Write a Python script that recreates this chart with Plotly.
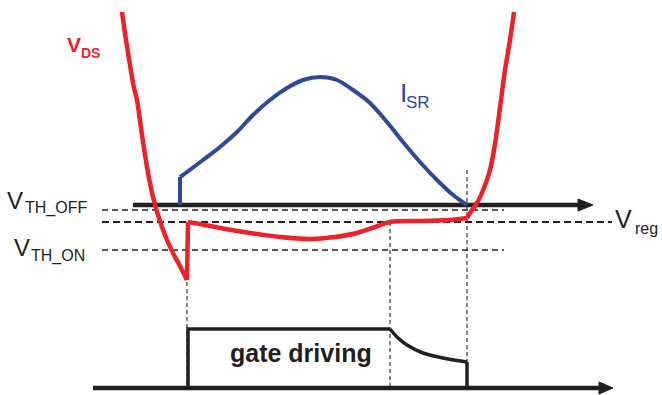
import plotly.graph_objects as go

# ---- data (pixel-space diagram coordinates) ----
# V_DS waveform, in four pieces
vds_fall_x = [122, 126, 130, 134, 137, 142, 147, 151, 155, 159, 162, 167, 173, 180, 187]
vds_fall_y = [12, 40, 65, 88, 100, 135, 167, 188, 205, 218, 227, 240, 253, 266, 280]
vds_jump_x = [187, 188]
vds_jump_y = [280, 222]
vds_cond_x = [188, 200, 220, 250, 280, 310, 335, 357, 375, 390, 420, 450, 467]
vds_cond_y = [222, 224, 228, 233, 237, 239, 237, 233, 227, 222, 221, 220, 218]
vds_rise_x = [467, 472, 477, 484, 490, 494, 497, 501, 505, 510, 514]
vds_rise_y = [218, 210, 203, 188, 170, 150, 130, 100, 70, 40, 12]

isr_step_x = [180, 180]
isr_step_y = [205, 177]
isr_x = [180, 183, 203, 220, 237, 253, 270, 287, 303, 320, 337, 353, 370, 387, 403, 420, 437, 453, 467]
isr_y = [177, 175, 160, 147, 132, 115, 100, 88, 80, 77, 80, 90, 103, 122, 142, 162, 180, 195, 205]

gate_on_x = [188, 188, 390]
gate_on_y = [388, 329, 329]
gate_decay_x = [390, 397, 407, 423, 443, 467]
gate_decay_y = [329, 337, 345, 353, 358, 362]
gate_off_x = [467, 467]
gate_off_y = [362, 388]

time_axis_x = [133, 582]
time_axis_y = 205
gate_axis_x = [93, 603]
gate_axis_y = 388

th_off_y = 210
vreg_y = 222
th_on_y = 250
thr_x = [102, 504]
vreg_x = [102, 612]

markers_x = [187, 390, 467]
markers_top = [282, 222, 170]

RED = "#ee2129"
BLUE = "#2e489c"
BLACK = "#231f20"
FONT = "Arial, Liberation Sans, Helvetica, sans-serif"

fig = go.Figure()

def line(x, y, color, width, dash=None, shape="linear"):
    fig.add_trace(go.Scatter(x=x, y=y, mode="lines", hoverinfo="skip",
                             line=dict(color=color, width=width, dash=dash, shape=shape,
                                       smoothing=0.8 if shape == "spline" else None),
                             showlegend=False))

# dashed threshold lines
line(thr_x, [th_off_y] * 2, "#222222", 1.3, "6px,4px")
line(vreg_x, [vreg_y] * 2, BLACK, 2, "7px,4px")
line(thr_x, [th_on_y] * 2, "#222222", 1.3, "6px,4px")

# vertical dotted markers
for mx, mt in zip(markers_x, markers_top):
    line([mx, mx], [mt, gate_axis_y], "#222222", 1.1, "4px,3px")

# time axes with arrowheads
line(time_axis_x, [time_axis_y] * 2, BLACK, 4.5)
fig.add_trace(go.Scatter(x=[578, 593, 578, 578], y=[199, 205, 211, 199], mode="lines",
                         fill="toself", fillcolor=BLACK, line=dict(color=BLACK, width=1),
                         hoverinfo="skip", showlegend=False))
line(gate_axis_x, [gate_axis_y] * 2, BLACK, 4.5)
fig.add_trace(go.Scatter(x=[599, 613, 599, 599], y=[382, 388, 394, 382], mode="lines",
                         fill="toself", fillcolor=BLACK, line=dict(color=BLACK, width=1),
                         hoverinfo="skip", showlegend=False))

# gate drive waveform
line(gate_on_x, gate_on_y, BLACK, 3.5)
line(gate_decay_x, gate_decay_y, BLACK, 3.5, shape="spline")
line(gate_off_x, gate_off_y, BLACK, 3.5)

# I_SR and V_DS
line(isr_step_x, isr_step_y, BLUE, 4)
line(isr_x, isr_y, BLUE, 4, shape="spline")
line(vds_fall_x, vds_fall_y, RED, 4.5, shape="spline")
line(vds_jump_x, vds_jump_y, RED, 4.5)
line(vds_cond_x, vds_cond_y, RED, 4.5, shape="spline")
line(vds_rise_x, vds_rise_y, RED, 4.5, shape="spline")

def txt(x, y, s, size, color=BLACK, bold=False, anchor="left"):
    fig.add_annotation(x=x, y=y, xref="x", yref="y", text=("<b>%s</b>" % s) if bold else s,
                       showarrow=False, xanchor=anchor, yanchor="middle",
                       font=dict(family=FONT, size=size, color=color))

txt(5, 200, "V", 24)
txt(23, 208, "TH_OFF", 16)
txt(12, 247, "V", 24)
txt(29, 255.5, "TH_ON", 16)
txt(65, 44.5, "V", 21, RED, True)
txt(79, 53, "DS", 14, RED, True)
txt(398, 92.5, "I", 26, BLUE)
txt(404, 102, "SR", 17, BLUE)
txt(613, 219, "V", 25)
txt(633, 228, "reg", 16)
txt(301, 353, "gate driving", 25, BLACK, True, "center")

fig.update_layout(width=662, height=395, autosize=False,
                  margin=dict(l=0, r=0, t=0, b=0),
                  paper_bgcolor="white", plot_bgcolor="white",
                  xaxis=dict(range=[0, 662], visible=False, fixedrange=True),
                  yaxis=dict(range=[395, 0], visible=False, fixedrange=True))

fig.write_html("out.html", config={"displayModeBar": False},
               post_script="document.body.style.margin='0';document.body.style.overflow='hidden';")
